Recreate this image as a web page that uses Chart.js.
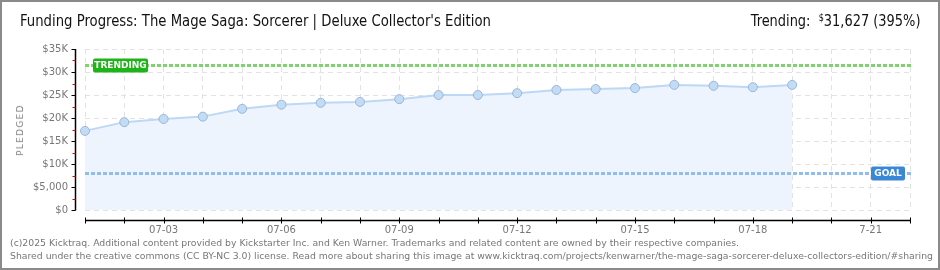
<!DOCTYPE html>
<html>
<head>
<meta charset="utf-8">
<script src="https://cdn.jsdelivr.net/npm/chart.js@4.4.1/dist/chart.umd.min.js"></script>
<style>
  html, body { margin: 0; padding: 0; background: #fff; }
  #wrap { position: relative; width: 940px; height: 270px; box-sizing: border-box; border: 2px solid #8a8a8a; overflow: hidden; }
  #chart { position: absolute; left: -2px; top: -2px; }
  .title { position: absolute; left: 18px; top: 9px; font-family: 'DejaVu Sans Condensed', 'DejaVu Sans', sans-serif; font-size: 16px; color: #111; white-space: nowrap; transform: scaleX(0.92); transform-origin: left center; }
  .trend { position: absolute; right: 18px; top: 9px; font-family: 'DejaVu Sans Condensed', 'DejaVu Sans', sans-serif; font-size: 16px; color: #111; white-space: nowrap; transform: scaleX(0.9); transform-origin: right center; }
  .trend sup { font-size: 10px; vertical-align: 5px; }
  .pledged { position: absolute; left: 18px; top: 128px; transform: translate(-50%, -50%) rotate(-90deg); transform-origin: center; font-family: 'DejaVu Sans', sans-serif; font-size: 9px; letter-spacing: 1.3px; color: #808080; white-space: nowrap; }
  .foot { position: absolute; left: 8px; font-family: 'DejaVu Sans', sans-serif; font-size: 9.3px; color: #777; white-space: nowrap; }
</style>
</head>
<body>
<div id="wrap">
  <canvas id="chart" width="940" height="270"></canvas>
  <div class="title">Funding Progress: The Mage Saga: Sorcerer | Deluxe Collector's Edition</div>
  <div class="trend">Trending:&nbsp; <sup>$</sup>31,627 (395%)</div>
  <div class="pledged">PLEDGED</div>
  <div class="foot" style="top:235px">(c)2025 Kicktraq. Additional content provided by Kickstarter Inc. and Ken Warner. Trademarks and related content are owned by their respective companies.</div>
  <div class="foot" style="top:248px">Shared under the creative commons (CC BY-NC 3.0) license. Read more about sharing this image at www.kicktraq.com/projects/kenwarner/the-mage-saga-sorcerer-deluxe-collectors-edition/#sharing</div>
</div>
<script>
// данные
const days = ['07-01', '07-02', '07-03', '07-04', '07-05', '07-06', '07-07', '07-08', '07-09', '07-10', '07-11',
              '07-12', '07-13', '07-14', '07-15', '07-16', '07-17', '07-18', '07-19', '07-20', '7-21', '07-22'];
const pledged = [17200, 19100, 19800, 20300, 22000, 22900, 23300, 23500, 24100, 25000, 25000,
                 25400, 26100, 26300, 26500, 27200, 27000, 26700, 27200];
const goal = 8000;
const trending = 31627;
const yTicks = [0, 5000, 10000, 15000, 20000, 25000, 30000, 35000];

const tickFont = { family: "'DejaVu Sans', sans-serif", size: 10 };

// линии цели и тренда, оси с засечками
const guides = {
  id: 'guides',
  afterDatasetsDraw(chart) {
    const { ctx, chartArea: a, scales: { x, y } } = chart;
    ctx.save();
    ctx.lineWidth = 3;
    ctx.setLineDash([4, 2]);
    const gy = Math.round(y.getPixelForValue(goal)) + 0.5;
    const ty = Math.round(y.getPixelForValue(trending)) + 0.5;
    ctx.strokeStyle = '#8fbdec';
    ctx.beginPath(); ctx.moveTo(a.left, gy); ctx.lineTo(a.right + 2, gy); ctx.stroke();
    ctx.strokeStyle = '#7dd46e';
    ctx.beginPath(); ctx.moveTo(a.left, ty); ctx.lineTo(a.right + 1, ty); ctx.stroke();
    ctx.setLineDash([]);

    // плашки
    function badge(text, bx, by, w, color) {
      ctx.fillStyle = color;
      ctx.beginPath();
      ctx.roundRect(bx, by - 7, w, 14, 2);
      ctx.fill();
      ctx.fillStyle = '#fff';
      ctx.font = "bold 9px 'DejaVu Sans', sans-serif";
      ctx.textBaseline = 'middle';
      ctx.textAlign = 'center';
      ctx.fillText(text, bx + w / 2, by + 0.5);
    }
    badge('TRENDING', a.left + 8, ty, 55, '#1fb31a');
    badge('GOAL', a.right - 39, gy, 34, '#3a87d6');

    // ось Y
    const ax = 75.5;
    ctx.strokeStyle = '#000';
    ctx.lineWidth = 1.5;
    ctx.beginPath(); ctx.moveTo(ax, a.top); ctx.lineTo(ax, a.bottom + 0.5); ctx.stroke();
    ctx.lineWidth = 1;
    yTicks.forEach(v => {
      const py = Math.round(y.getPixelForValue(v)) + 0.5;
      ctx.beginPath(); ctx.moveTo(ax - 4, py); ctx.lineTo(ax, py); ctx.stroke();
    });
    ctx.strokeStyle = '#e00000';
    yTicks.slice(0, -1).forEach(v => {
      const py = Math.round(y.getPixelForValue(v + 2500)) + 0.5;
      ctx.beginPath(); ctx.moveTo(ax - 3, py); ctx.lineTo(ax, py); ctx.stroke();
    });

    // ось X
    const axy = a.bottom + 10.5;
    ctx.strokeStyle = '#000';
    ctx.lineWidth = 1.5;
    ctx.beginPath(); ctx.moveTo(a.left, axy); ctx.lineTo(a.right, axy); ctx.stroke();
    ctx.lineWidth = 1;
    days.forEach((d, i) => {
      const px = Math.round(x.getPixelForValue(i)) + 0.5;
      ctx.beginPath(); ctx.moveTo(px, axy - 3); ctx.lineTo(px, axy + 3); ctx.stroke();
    });
    ctx.restore();
  }
};

new Chart(document.getElementById('chart'), {
  type: 'line',
  data: {
    labels: days,
    datasets: [{
      data: pledged,
      borderColor: '#bcd8f5',
      borderWidth: 2,
      backgroundColor: '#edf4fd',
      fill: 'origin',
      tension: 0,
      pointRadius: 4.5,
      pointBackgroundColor: '#c3dcf6',
      pointBorderColor: '#9bb5d6',
      pointBorderWidth: 1
    }]
  },
  options: {
    responsive: false,
    animation: false,
    layout: { padding: { top: 49, right: 30, left: 0, bottom: 0 } },
    plugins: { legend: { display: false }, tooltip: { enabled: false } },
    scales: {
      x: {
        offset: false,
        afterFit(s) { s.height = 60; },
        grid: { color: '#e2e2e2', drawTicks: false },
        border: { display: false, dash: [5, 4] },
        ticks: {
          autoSkip: false, maxRotation: 0, padding: 14, color: '#777', font: tickFont,
          callback(v, i) { return i % 3 === 2 ? days[i] : ''; }
        }
      },
      y: {
        min: 0, max: 35000,
        afterFit(s) { s.width = 85; },
        afterBuildTicks(s) { s.ticks = yTicks.map(v => ({ value: v })); },
        grid: { color: '#e2e2e2', drawTicks: false },
        border: { display: false, dash: [5, 4] },
        ticks: {
          padding: 17, color: '#777', font: tickFont,
          callback(v) { return v === 5000 ? '$5,000' : '$' + (v / 1000) + (v ? 'K' : ''); }
        }
      }
    }
  },
  plugins: [guides]
});
</script>
</body>
</html>
